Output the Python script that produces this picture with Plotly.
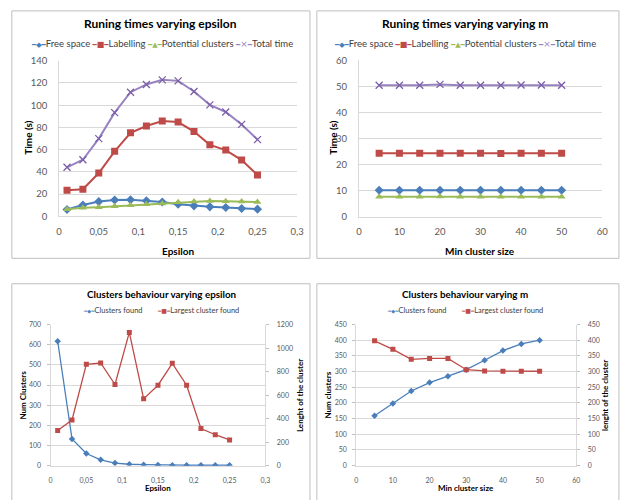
import plotly.graph_objects as go

W, H = 621, 500

# ---------------- data ----------------
epsilon = [0.01, 0.03, 0.05, 0.07, 0.09, 0.11, 0.13, 0.15, 0.17, 0.19, 0.21, 0.23, 0.25]
free_space_eps = [6.1, 10.2, 13.2, 14.6, 14.9, 14.0, 12.9, 10.8, 9.4, 8.5, 7.9, 7.0, 6.4]
labelling_eps = [23.4, 24.3, 38.9, 58.5, 75.1, 81.3, 85.7, 84.8, 76.3, 64.3, 59.6, 50.6, 37.1]
potential_eps = [6.3, 7.6, 8.2, 9.0, 9.9, 10.8, 11.4, 12.6, 13.2, 13.7, 13.5, 13.2, 12.9]
total_eps = [44.1, 50.9, 69.9, 93.3, 111.7, 118.7, 122.8, 121.9, 112.3, 100.3, 93.9, 82.7, 69.0]

min_size = [5, 10, 15, 20, 25, 30, 35, 40, 45, 50]
free_space_m = [10.1, 10.1, 10.1, 10.1, 10.1, 10.1, 10.1, 10.1, 10.1, 10.1]
labelling_m = [24.3, 24.3, 24.3, 24.3, 24.3, 24.3, 24.2, 24.3, 24.3, 24.3]
potential_m = [7.6, 7.6, 7.6, 7.7, 7.6, 7.6, 7.6, 7.6, 7.6, 7.6]
total_m = [50.5, 50.5, 50.5, 50.8, 50.5, 50.5, 50.5, 50.6, 50.6, 50.5]

clusters_eps = [617, 132, 60, 29, 13, 7, 5, 3, 2, 2, 2, 2, 2]
largest_eps = [299, 388, 862, 873, 690, 1133, 568, 684, 870, 684, 316, 263, 219]

clusters_m = [159, 198, 238, 265, 285, 306, 336, 367, 388, 400]
largest_m = [398, 371, 339, 342, 342, 306, 302, 301, 301, 301]

series_names = ["Free space", "Labelling", "Potential clusters", "Total time"]
cluster_names = ["Clusters found", "Largest cluster found"]

BLUE, RED, GREEN, PURPLE = "#4A7EBB", "#BE4B48", "#9BBB59", "#9883C0"
FONT = "Lato"
TICK_C = "#595959"
LEG_C = "#404040"
GRID_C = "#D9D9D9"


def fx(p):
    return p / W


def fy(p):
    return 1 - p / H


fig = go.Figure()

# ---------------- top charts ----------------
def add_times(x, vals, xa, ya):
    styles = [
        dict(color=BLUE, symbol="diamond", size=7),
        dict(color=RED, symbol="square", size=7),
        dict(color=GREEN, symbol="triangle-up", size=7),
        dict(color=PURPLE, symbol="x-thin", size=7, line=dict(color="#7A5FA8", width=1.3)),
    ]
    for name, v, st in zip(series_names, vals, styles):
        fig.add_trace(go.Scatter(
            x=x, y=v, name=name, mode="lines+markers", xaxis=xa, yaxis=ya,
            line=dict(color=st["color"], width=2),
            marker=dict(symbol=st["symbol"], size=st["size"], color=st["color"],
                        line=st.get("line", dict(width=0))),
            showlegend=False,
        ))


add_times(epsilon, [free_space_eps, labelling_eps, potential_eps, total_eps], "x", "y")
add_times(min_size, [free_space_m, labelling_m, potential_m, total_m], "x2", "y2")

# ---------------- bottom charts ----------------
def add_clusters(x, cl, lg, xa, ya, ya2):
    fig.add_trace(go.Scatter(
        x=x, y=cl, name=cluster_names[0], mode="lines+markers", xaxis=xa, yaxis=ya,
        line=dict(color=BLUE, width=1.3),
        marker=dict(symbol="diamond", size=5, color=BLUE), showlegend=False))
    fig.add_trace(go.Scatter(
        x=x, y=lg, name=cluster_names[1], mode="lines+markers", xaxis=xa, yaxis=ya2,
        line=dict(color=RED, width=1.3),
        marker=dict(symbol="square", size=5, color=RED), showlegend=False))


add_clusters(epsilon, clusters_eps, largest_eps, "x3", "y3", "y5")
add_clusters(min_size, clusters_m, largest_m, "x4", "y4", "y6")

# ---------------- axes ----------------
def xaxis(dom, rng, dtick, size, anchor, standoff):
    return dict(domain=[fx(dom[0]), fx(dom[1])], range=rng, dtick=dtick, anchor=anchor,
                showgrid=False, zeroline=False, showline=True, linecolor=GRID_C, linewidth=1,
                ticks="", ticklabelstandoff=standoff,
                tickfont=dict(family=FONT, size=size, color=TICK_C))


def yaxis(dom, rng, dtick, size, anchor, side="left", grid=True, ticks="", standoff=7):
    return dict(domain=[fy(dom[1]), fy(dom[0])], range=rng, dtick=dtick, anchor=anchor, side=side,
                showgrid=grid, gridcolor=GRID_C, gridwidth=1, zeroline=False,
                showline=True, linecolor=GRID_C, linewidth=1,
                ticks=ticks, ticklen=3, tickcolor="#BFBFBF", ticklabelstandoff=standoff,
                tickfont=dict(family=FONT, size=size, color=TICK_C))


layout = dict(
    width=W, height=H, margin=dict(l=0, r=0, t=0, b=0),
    paper_bgcolor="white", plot_bgcolor="white", separators=", ",
    showlegend=False,
    xaxis=xaxis((57, 299), [0, 0.3], 0.05, 9.5, "y", 6),
    yaxis=yaxis((56, 215), [0, 140], 20, 9.5, "x", standoff=9),
    xaxis2=xaxis((361.7, 609), [0, 60], 10, 9.5, "y2", 6),
    yaxis2=yaxis((55.7, 215.3), [0, 60], 10, 9.5, "x2", standoff=9),
    xaxis3=xaxis((48.3, 266.7), [0, 0.3], 0.05, 7, "y3", 8),
    yaxis3=yaxis((325.7, 470), [0, 700], 100, 7, "x3", ticks="outside", standoff=4),
    xaxis4=xaxis((359, 582.7), [0, 60], 10, 7, "y4", 8),
    yaxis4=yaxis((325.7, 470), [0, 450], 50, 7, "x4", ticks="outside", standoff=4),
)
layout["yaxis5"] = yaxis((325.7, 470), [0, 1200], 200, 7, "x3", side="right", grid=False,
                         ticks="outside", standoff=6)
layout["yaxis5"]["overlaying"] = "y3"
layout["yaxis6"] = yaxis((325.7, 470), [0, 450], 50, 7, "x4", side="right", grid=False,
                         ticks="outside", standoff=6)
layout["yaxis6"]["overlaying"] = "y4"
fig.update_layout(**layout)

# ---------------- panel borders ----------------
for (x0, y0, x1, y1) in [(9, 5, 312, 258), (319, 5, 626, 258), (9, 284, 312, 506), (319, 284, 626, 506)]:
    fig.add_shape(type="rect", xref="paper", yref="paper",
                  x0=fx(x0), x1=fx(x1), y0=fy(y1), y1=fy(y0),
                  line=dict(color="#BFBFBF", width=1), fillcolor="rgba(0,0,0,0)", layer="below")

# ---------------- text ----------------
def ann(text, x, y, size, bold=False, angle=0, color="#000000"):
    if bold:
        text = "<b>" + text + "</b>"
    fig.add_annotation(text=text, x=fx(x), y=fy(y), xref="paper", yref="paper",
                       showarrow=False, xanchor="center", yanchor="middle", textangle=angle,
                       font=dict(family=FONT, size=size, color=color))


def sym(color, glyph, lsize, msize):
    return ('<span style="color:%s;font-family:DejaVu Sans;font-size:%gpx">━</span>'
            '<span style="color:%s;font-family:DejaVu Sans;font-size:%gpx">%s</span>'
            '<span style="color:%s;font-family:DejaVu Sans;font-size:%gpx">━</span>'
            % (color, lsize, color, msize, glyph, color, lsize))


top_legend = (sym(BLUE, "◆", 7, 7) + series_names[0] + " " + sym(RED, "■", 7, 8) + series_names[1] + " "
              + sym(GREEN, "▲", 7, 7) + series_names[2] + " " + sym(PURPLE, "×", 7, 9) + series_names[3])
bot_legend = (sym(BLUE, "◆", 5.5, 5) + cluster_names[0] + "        "
              + sym(RED, "■", 5.5, 6) + cluster_names[1])

ann("Runing times varying epsilon", 160.5, 18, 12, bold=True)
ann(top_legend, 161.5, 38, 9.5, color=LEG_C)
ann("Time (s)", 25, 135, 10, bold=True, angle=-90)
ann("Epsilon", 178, 250, 10, bold=True)

ann("Runing times varying varying m", 470, 18, 12, bold=True)
ann(top_legend, 470, 38, 9.5, color=LEG_C)
ann("Time (s)", 335, 135, 10, bold=True, angle=-90)
ann("Min cluster size", 485, 250, 10, bold=True)

ann("Clusters behaviour varying epsilon", 161, 294, 9.8, bold=True)
ann(bot_legend, 161, 311, 7.5, color=LEG_C)
ann("Num Clusters", 20.7, 398, 8, bold=True, angle=-90)
ann("Lenght of the cluster", 301.7, 398, 8, bold=True, angle=-90)
ann("Epsilon", 157.5, 493, 8, bold=True)

ann("Clusters behaviour varying m", 470, 294, 9.8, bold=True)
ann(bot_legend, 470, 311, 7.5, color=LEG_C)
ann("Num clusters", 330.7, 398, 8, bold=True, angle=-90)
ann("lenght of the cluster", 611.7, 398, 8, bold=True, angle=-90)
ann("Min cluster size", 470.8, 493, 8, bold=True)

fig.write_html("out.html")
